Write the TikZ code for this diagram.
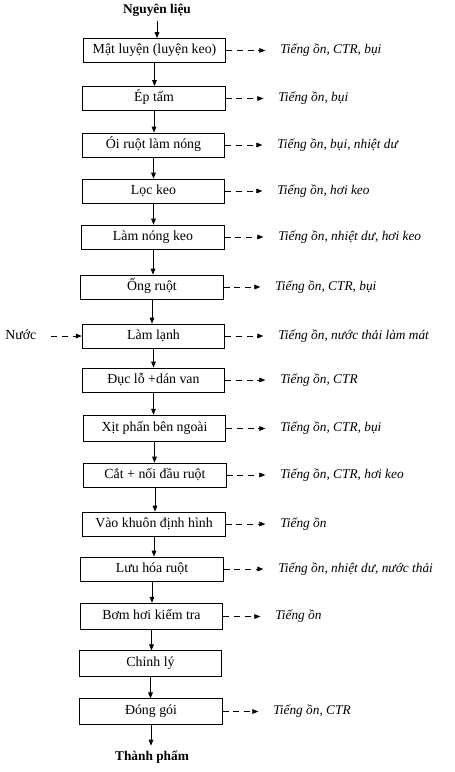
\documentclass[tikz,border=0pt]{standalone}
\usepackage{fontspec}
\setmainfont{Liberation Serif}
\usetikzlibrary{arrows.meta}
\tikzset{
  txt/.style={text height=7.5pt,text depth=2.5pt},
  stepbox/.style={draw,txt,line width=0.6pt,minimum width=107pt,minimum height=18pt,inner sep=0pt},
  waste/.style={txt,anchor=west,inner sep=0pt,font=\itshape},
  flow/.style={line width=0.6pt,-{Triangle[length=4.5pt,width=3.5pt]}},
  loss/.style={flow,dash pattern=on 4.5pt off 3.5pt,shorten >=11pt},
}
\begin{document}
\begin{tikzpicture}[x=0.75pt,y=-0.75pt,font=\fontsize{10.4}{12}\selectfont]
    \useasboundingbox (0,0) rectangle (454,772);
    % main line
    \node[txt,font=\bfseries] (in) at (157,10) {Nguyên liệu};
    \node[stepbox] (a1) at (154.5,50.5) {Mật luyện (luyện keo)};
    \node[stepbox] (a2) at (154,98.5) {Ép tấm};
    \node[stepbox] (a3) at (153.5,145) {Ói ruột làm nóng};
    \node[stepbox] (a4) at (153.5,191) {Lọc keo};
    \node[stepbox] (a5) at (153,237) {Làm nóng keo};
    \node[stepbox] (a6) at (152,287) {Ống ruột};
    \node[stepbox] (a7) at (153.5,336) {Làm lạnh};
    \node[stepbox] (a8) at (153.5,380) {Đục lỗ +dán van};
    \node[stepbox,minimum height=20pt] (a9) at (154.5,428.5) {Xịt phấn bên ngoài};
    \node[stepbox] (a10) at (155,475) {Cắt + nối đầu ruột};
    \node[stepbox] (a11) at (154,524) {Vào khuôn định hình};
    \node[stepbox] (a12) at (152,569) {Lưu hóa ruột};
    \node[stepbox,minimum height=20pt] (a13) at (151.5,616.5) {Bơm hơi kiểm tra};
    \node[stepbox,minimum height=19pt] (a14) at (150.5,663.5) {Chỉnh lý};
    \node[stepbox,minimum height=19pt] (a15) at (151,711.5) {Đóng gói};
    \node[txt,font=\bfseries] (out) at (152,757) {Thành phẩm};
    \node[txt,anchor=west,inner sep=0pt] (w) at (5,336) {Nước};
    % wastes
    \node[waste] (b1) at (280,50.5) {Tiếng ồn, CTR, bụi};
    \node[waste] (b2) at (278,98.5) {Tiếng ồn, bụi};
    \node[waste] (b3) at (277,145) {Tiếng ồn, bụi, nhiệt dư};
    \node[waste] (b4) at (277,191) {Tiếng ồn, hơi keo};
    \node[waste] (b5) at (278,237) {Tiếng ồn, nhiệt dư, hơi keo};
    \node[waste] (b6) at (275,287) {Tiếng ồn, CTR, bụi};
    \node[waste] (b7) at (278,336) {Tiếng ồn, nước thải làm mát};
    \node[waste] (b8) at (280,380) {Tiếng ồn, CTR};
    \node[waste] (b9) at (280,428.5) {Tiếng ồn, CTR, bụi};
    \node[waste] (b10) at (280,475) {Tiếng ồn, CTR, hơi keo};
    \node[waste] (b11) at (280,524) {Tiếng ồn};
    \node[waste] (b12) at (278,569) {Tiếng ồn, nhiệt dư, nước thải};
    \node[waste] (b13) at (275,616.5) {Tiếng ồn};
    \node[waste] (b15) at (273,711.5) {Tiếng ồn, CTR};
    % arrows
    \draw[flow] (in.south) -- (in.south |- a1.north);
    \draw[flow] (a1.south) -- (a1.south |- a2.north);
    \draw[flow] (a2.south) -- (a2.south |- a3.north);
    \draw[flow] (a3.south) -- (a3.south |- a4.north);
    \draw[flow] (a4.south) -- (a4.south |- a5.north);
    \draw[flow] (a5.south) -- (a5.south |- a6.north);
    \draw[flow] (a6.south) -- (a6.south |- a7.north);
    \draw[flow] (a7.south) -- (a7.south |- a8.north);
    \draw[flow] (a8.south) -- (a8.south |- a9.north);
    \draw[flow] (a9.south) -- (a9.south |- a10.north);
    \draw[flow] (a10.south) -- (a10.south |- a11.north);
    \draw[flow] (a11.south) -- (a11.south |- a12.north);
    \draw[flow] (a12.south) -- (a12.south |- a13.north);
    \draw[flow] (a13.south) -- (a13.south |- a14.north);
    \draw[flow] (a14.south) -- (a14.south |- a15.north);
    \draw[flow] (a15.south) -- (a15.south |- out.north);
    \draw[flow,dash pattern=on 4.5pt off 3.5pt,shorten <=11pt] (w.east) -- (a7.west);
    \draw[loss] (a1.east) -- (b1.west);
    \draw[loss] (a2.east) -- (b2.west);
    \draw[loss] (a3.east) -- (b3.west);
    \draw[loss] (a4.east) -- (b4.west);
    \draw[loss] (a5.east) -- (b5.west);
    \draw[loss] (a6.east) -- (b6.west);
    \draw[loss] (a7.east) -- (b7.west);
    \draw[loss] (a8.east) -- (b8.west);
    \draw[loss] (a9.east) -- (b9.west);
    \draw[loss] (a10.east) -- (b10.west);
    \draw[loss] (a11.east) -- (b11.west);
    \draw[loss] (a12.east) -- (b12.west);
    \draw[loss] (a13.east) -- (b13.west);
    \draw[loss] (a15.east) -- (b15.west);
\end{tikzpicture}
\end{document}
